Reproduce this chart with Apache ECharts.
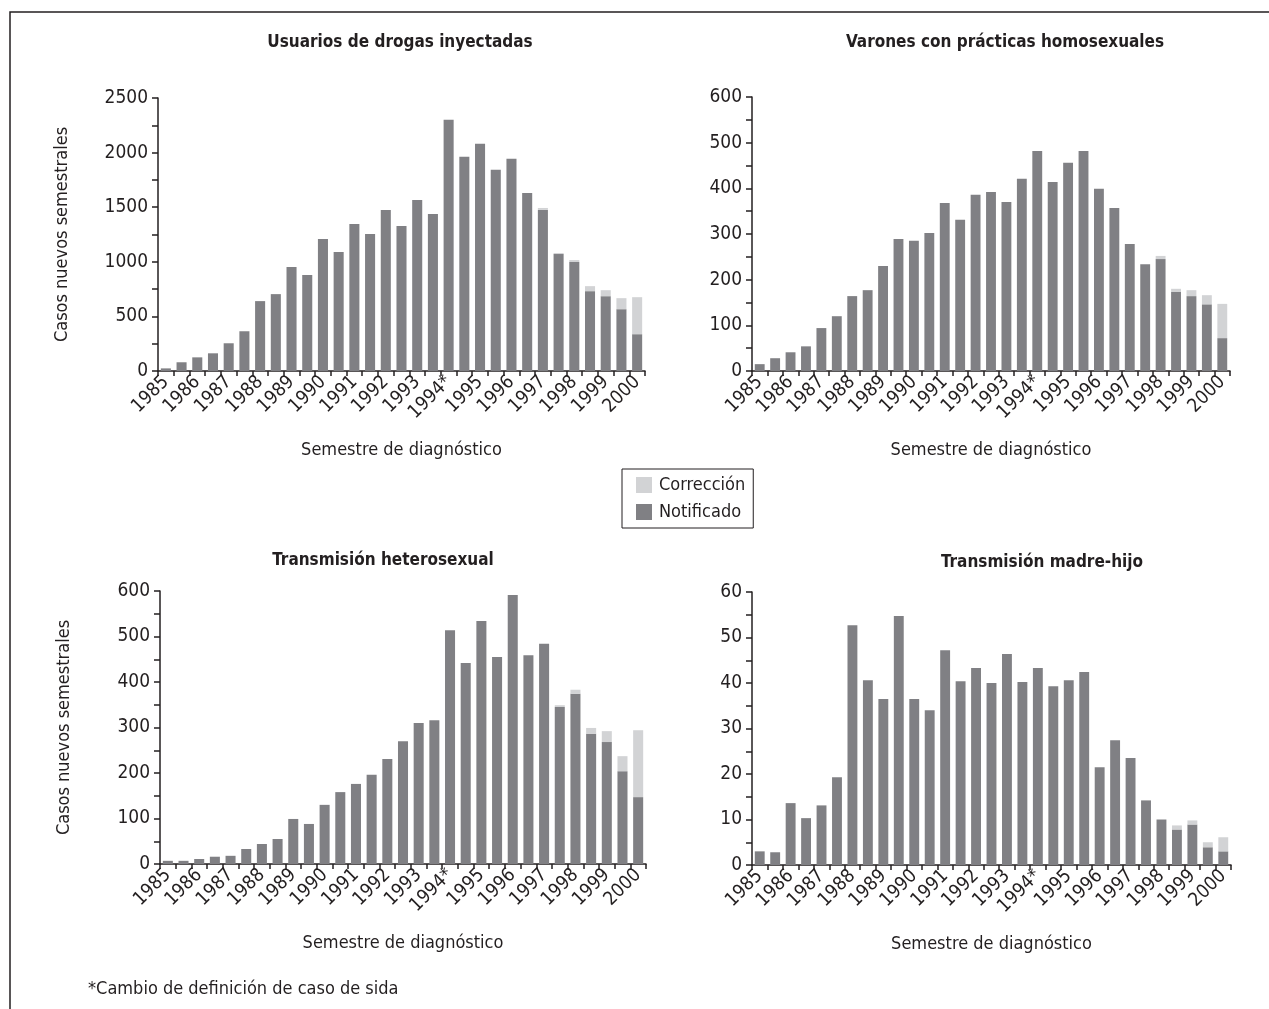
<!DOCTYPE html>
<html>
<head>
<meta charset="utf-8">
<script src="https://cdn.jsdelivr.net/npm/echarts@6/dist/echarts.min.js"></script>
<style>
  html, body { margin: 0; padding: 0; background: #fff; }
  #main { width: 1269px; height: 1009px; }
</style>
</head>
<body>
<div id="main"></div>
<script>
// years shown on the x axis (one label every two semesters)
const yearLabels = ['1985', '1986', '1987', '1988', '1989', '1990', '1991', '1992',
  '1993', '1994*', '1995', '1996', '1997', '1998', '1999', '2000'];
const nSemesters = 31; // 1985-I .. 2000-I

// Usuarios de drogas inyectadas
const udiNotif = [24, 80, 125, 162, 254, 364, 640, 704, 952, 878, 1209, 1089, 1346, 1255, 1475, 1328,
  1567, 1438, 2301, 1961, 2081, 1842, 1943, 1631, 1475, 1071, 998, 731, 685, 566, 337];
const udiCorr = [0, 0, 0, 0, 0, 0, 0, 0, 0, 0, 0, 0, 0, 0, 0, 0,
  0, 0, 0, 0, 0, 0, 0, 0, 18, 9, 18, 46, 55, 101, 339];

// Varones con prácticas homosexuales
const homoNotif = [15, 28, 41, 54, 94, 120, 164, 177, 230, 289, 285, 302, 368, 331, 386, 392,
  370, 421, 482, 414, 456, 482, 399, 357, 278, 234, 245, 173, 164, 146, 72];
const homoCorr = [0, 0, 0, 0, 0, 0, 0, 0, 0, 0, 0, 0, 0, 0, 0, 0,
  0, 0, 0, 0, 0, 0, 0, 0, 0, 0, 7, 7, 13, 20, 75];

// Transmisión heterosexual
const heteroNotif = [7, 7, 11, 16, 18, 33, 44, 55, 99, 88, 130, 158, 176, 196, 231, 270,
  310, 316, 514, 442, 534, 455, 591, 459, 484, 345, 374, 286, 268, 204, 147];
const heteroCorr = [0, 0, 0, 0, 0, 0, 0, 0, 0, 0, 0, 0, 0, 0, 0, 0,
  0, 0, 0, 0, 0, 0, 0, 0, 0, 4, 9, 13, 24, 33, 147];

// Transmisión madre-hijo
const mhNotif = [3, 2.8, 13.6, 10.3, 13.1, 19.3, 52.7, 40.6, 36.5, 54.7, 36.5, 34, 47.2, 40.4, 43.3, 40,
  46.4, 40.2, 43.3, 39.3, 40.6, 42.4, 21.5, 27.4, 23.5, 14.2, 10, 7.8, 8.9, 3.9, 3];
const mhCorr = [0, 0, 0, 0, 0, 0, 0, 0, 0, 0, 0, 0, 0, 0, 0, 0,
  0, 0, 0, 0, 0, 0, 0, 0, 0, 0, 0, 0.9, 0.9, 1.1, 3.1];

const panelTitles = ['Usuarios de drogas inyectadas', 'Varones con prácticas homosexuales',
  'Transmisión heterosexual', 'Transmisión madre-hijo'];

const FONT = "'Liberation Sans Narrow', 'DejaVu Sans Condensed', 'Arial Narrow', sans-serif";
const INK = '#231f20';
const DARK = '#808084';
const LIGHT = '#d2d3d5';

const categories = [];
for (let i = 0; i < nSemesters; i++) {
  categories.push(yearLabels[Math.floor(i / 2)] + (i % 2 ? '-II' : ''));
}

const panels = [
  { notif: udiNotif, corr: udiCorr, max: 2500, step: 250, labelStep: 500,
    grid: { left: 158, top: 98, width: 487, height: 273 }, title: [395, 29], yName: true },
  { notif: homoNotif, corr: homoCorr, max: 600, step: 50, labelStep: 100,
    grid: { left: 752, top: 97, width: 478, height: 274 }, title: [1000, 29], yName: false },
  { notif: heteroNotif, corr: heteroCorr, max: 600, step: 50, labelStep: 100,
    grid: { left: 160, top: 591, width: 486, height: 273 }, title: [378, 547], yName: true },
  { notif: mhNotif, corr: mhCorr, max: 60, step: 5, labelStep: 10,
    grid: { left: 752, top: 592, width: 479, height: 273 }, title: [1037, 549], yName: false }
];

const chart = echarts.init(document.getElementById('main'), null, { renderer: 'canvas' });

const option = {
  animation: false,
  backgroundColor: '#fff',
  textStyle: { fontFamily: FONT, color: INK },
  title: panels.map((p, i) => ({
    text: panelTitles[i],
    left: p.title[0],
    top: p.title[1],
    textAlign: 'center',
    textStyle: { fontFamily: FONT, fontSize: 17, fontWeight: 'bold', color: INK }
  })),
  legend: {
    data: ['Corrección', 'Notificado'],
    orient: 'vertical',
    left: 622,
    top: 469,
    itemWidth: 16,
    itemHeight: 16,
    itemGap: 9,
    padding: [7, 8, 7, 14],
    borderColor: INK,
    borderWidth: 1,
    icon: 'rect',
    selectedMode: false,
    textStyle: { fontFamily: FONT, fontSize: 18, color: INK, padding: [0, 0, 0, 2] }
  },
  grid: panels.map(p => Object.assign({ containLabel: false, outerBoundsMode: 'none' }, p.grid)),
  xAxis: panels.map((p, i) => ({
    type: 'category',
    gridIndex: i,
    data: categories,
    name: 'Semestre de diagnóstico',
    nameLocation: 'middle',
    nameGap: 70,
    nameTextStyle: { fontFamily: FONT, fontSize: 18, color: INK },
    axisLine: { lineStyle: { color: INK, width: 1.5 } },
    axisTick: { show: true, length: 5, interval: 0, lineStyle: { color: INK, width: 1.5 } },
    axisLabel: {
      interval: 1,
      rotate: 45,
      margin: 8,
      fontFamily: FONT,
      fontSize: 19,
      color: INK,
      formatter: v => v.replace('-II', '')
    },
    splitLine: { show: false }
  })),
  yAxis: panels.map((p, i) => ({
    type: 'value',
    gridIndex: i,
    min: 0,
    max: p.max,
    interval: p.step,
    name: p.yName ? 'Casos nuevos semestrales' : '',
    nameLocation: 'middle',
    nameGap: 87,
    nameTextStyle: { fontFamily: FONT, fontSize: 18, color: INK },
    axisLine: { show: true, lineStyle: { color: INK, width: 1.5 } },
    axisTick: { show: true, length: 6, lineStyle: { color: INK, width: 1.5 } },
    axisLabel: {
      margin: 10,
      fontFamily: FONT,
      fontSize: 19,
      color: INK,
      formatter: v => (v % p.labelStep === 0 ? String(v) : '')
    },
    splitLine: { show: false }
  })),
  graphic: [
    {
      type: 'polyline',
      silent: true,
      shape: { points: [[10, 1009], [10, 12], [1269, 12]] },
      style: { stroke: INK, lineWidth: 1.5, fill: null }
    },
    {
      type: 'text',
      left: 88,
      top: 980,
      silent: true,
      style: { text: '*Cambio de definición de caso de sida', fontFamily: FONT, fontSize: 18, fill: INK }
    }
  ],
  series: []
};

panels.forEach((p, i) => {
  option.series.push({
    name: 'Notificado',
    type: 'bar',
    xAxisIndex: i,
    yAxisIndex: i,
    stack: 'panel' + i,
    data: p.notif,
    barCategoryGap: '36%',
    itemStyle: { color: DARK },
    emphasis: { disabled: true }
  });
  option.series.push({
    name: 'Corrección',
    type: 'bar',
    xAxisIndex: i,
    yAxisIndex: i,
    stack: 'panel' + i,
    data: p.corr,
    barCategoryGap: '36%',
    itemStyle: { color: LIGHT },
    emphasis: { disabled: true }
  });
});

chart.setOption(option);
</script>
</body>
</html>
